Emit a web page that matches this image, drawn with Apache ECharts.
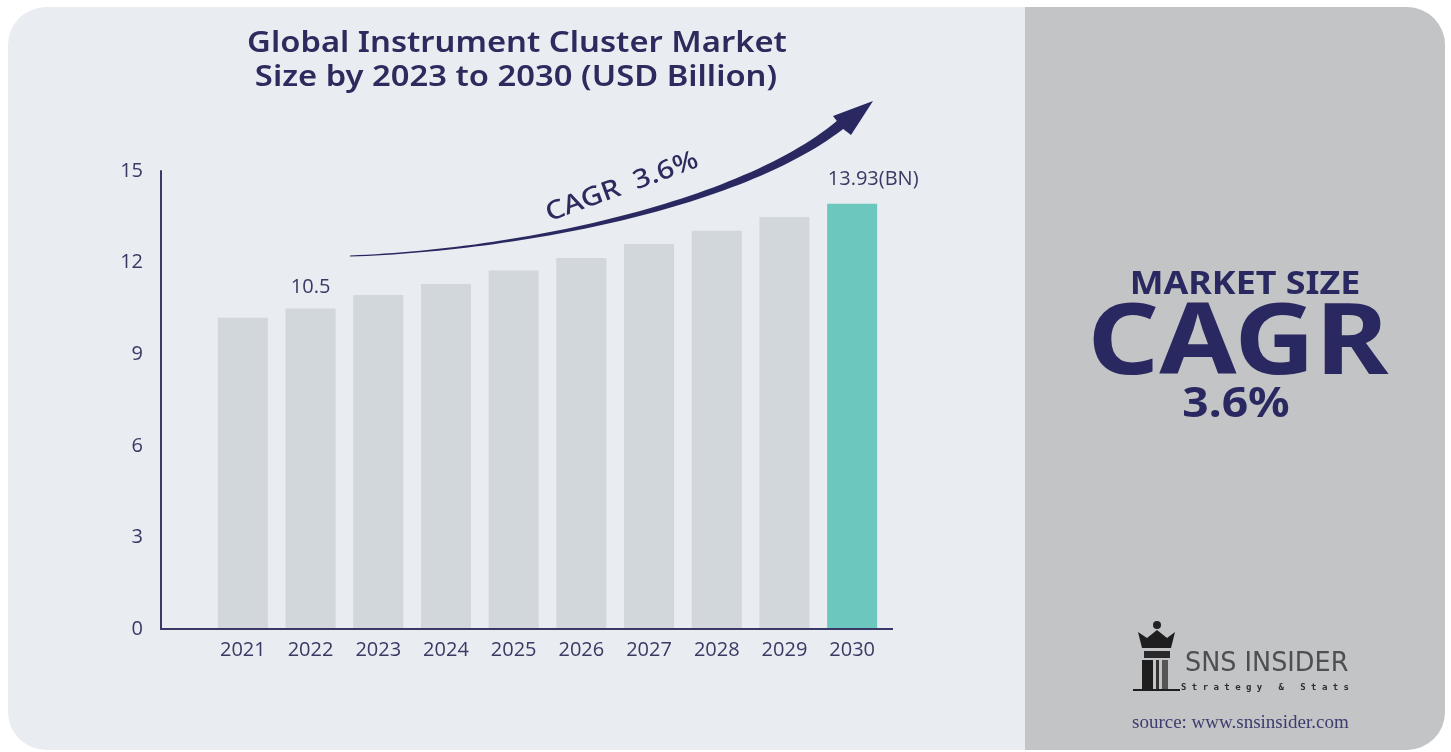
<!DOCTYPE html>
<html>
<head>
<meta charset="utf-8">
<script src="https://cdn.jsdelivr.net/npm/echarts@6/dist/echarts.min.js"></script>
<style>
  html, body { margin: 0; padding: 0; background: #ffffff; }
  #main { width: 1451px; height: 752px; }
</style>
</head>
<body>
<div id="main"></div>
<script>
// data
var years = ['2021', '2022', '2023', '2024', '2025', '2026', '2027', '2028', '2029', '2030'];
var marketSize = [10.19, 10.5, 10.94, 11.3, 11.74, 12.15, 12.61, 13.04, 13.49, 13.93];
var yTicks = [0, 3, 6, 9, 12, 15];
var labelled = {'2022': '10.5', '2030': '13.93(BN)'};

var navy = '#2d2b5e';
var barGrey = '#d2d7dc';
var teal = '#6cc7be';
var titleFont = '"Noto Sans", "Open Sans", sans-serif';
var axisFont = '"Open Sans", "Noto Sans", sans-serif';

var chart = echarts.init(document.getElementById('main'));

// swoosh arrow: cubic centre line, width growing toward the head
function bezPt(p, t){
	var u = 1 - t;
	return [
		u*u*u*p[0][0] + 3*u*u*t*p[1][0] + 3*u*t*t*p[2][0] + t*t*t*p[3][0],
		u*u*u*p[0][1] + 3*u*u*t*p[1][1] + 3*u*t*t*p[2][1] + t*t*t*p[3][1]
	];
}
var ctrl = [[350,256], [520,250], [740,205], [840,125]];
var up = [], down = [];
var n = 60;
for (var k = 0; k <= n; k++){
	var t = k / n;
	var a = bezPt(ctrl, Math.max(0, t - 0.005)), b = bezPt(ctrl, Math.min(1, t + 0.005));
	var dx = b[0] - a[0], dy = b[1] - a[1], len = Math.sqrt(dx*dx + dy*dy);
	var nx = dy / len, ny = -dx / len;
	var w = (1.2 + 9 * Math.pow(t, 1.5)) / 2;
	var c = bezPt(ctrl, t);
	up.push([c[0] + nx*w, c[1] + ny*w]);
	down.unshift([c[0] - nx*w, c[1] - ny*w]);
}
var arrowPts = up.concat([[833,116], [873,101], [851,135]]).concat(down);

var barData = [];
for (var i = 0; i < years.length; i++) {
	var isLast = (i == years.length - 1);
	var item = {
		value: marketSize[i],
		itemStyle: { color: isLast ? teal : barGrey }
	};
	if (labelled[years[i]]) {
		item.label = {
			show: true,
			position: 'top',
			formatter: labelled[years[i]],
			distance: isLast ? 14 : 11,
			offset: isLast ? [21, 0] : [0, 0],
			color: '#3a3963',
			fontSize: 20,
			fontFamily: axisFont
		};
	}
	barData.push(item);
}

var option = {
	backgroundColor: '#ffffff',
	animation: false,
	grid: { left: 209, right: 565, top: 171, bottom: 123 },
	xAxis: {
		type: 'category',
		data: years,
		axisLine: { show: false },
		axisTick: { show: false },
		axisLabel: { color: '#3a3963', fontSize: 20, fontFamily: axisFont, margin: 11 }
	},
	yAxis: {
		type: 'value',
		min: yTicks[0],
		max: yTicks[yTicks.length - 1],
		interval: 3,
		offset: 48,
		splitLine: { show: false },
		axisTick: { show: false },
		axisLine: { show: true, lineStyle: { color: '#3a3867', width: 2 } },
		axisLabel: { color: '#3a3963', fontSize: 20, fontFamily: axisFont, margin: 18 }
	},
	series: [{
		type: 'bar',
		barWidth: 50,
		data: barData
	}],
	graphic: [
		// card background
		{ type: 'rect', z: -10, shape: { x: 8, y: 7, width: 1437, height: 743, r: 38 }, style: { fill: '#e9ecf1' } },
		{ type: 'rect', z: -9, shape: { x: 1025, y: 7, width: 420, height: 743, r: [0, 38, 38, 0] }, style: { fill: '#c3c4c6' } },
		// x axis base line
		{ type: 'line', z: 5, shape: { x1: 160, y1: 629, x2: 893, y2: 629 }, style: { stroke: '#3a3867', lineWidth: 2 } },
		// title
		{ type: 'text', z: 5, x: 517, y: 44, scaleX: 1.13, style: { x: 0, y: 0, text: 'Global Instrument Cluster Market', fill: navy, font: '600 29px ' + titleFont, textAlign: 'center', textVerticalAlign: 'middle' } },
		{ type: 'text', z: 5, x: 516, y: 78, scaleX: 1.13, style: { x: 0, y: 0, text: 'Size by 2023 to 2030 (USD Billion)', fill: navy, font: '600 29px ' + titleFont, textAlign: 'center', textVerticalAlign: 'middle' } },
		// growth arrow
		{ type: 'polygon', z: 5, shape: { points: arrowPts }, style: { fill: '#2a2860' } },
		{ type: 'text', z: 5, x: 622, y: 187, rotation: 0.35, scaleX: 1.14, style: { x: 0, y: 0, text: 'CAGR  3.6%', fill: navy, font: '500 26px ' + titleFont, textAlign: 'center', textVerticalAlign: 'middle' } },
		// right panel
		{ type: 'text', z: 5, x: 1245, y: 285, scaleX: 1.12, style: { x: 0, y: 0, text: 'MARKET SIZE', fill: '#2a2860', font: 'bold 32px ' + titleFont, textAlign: 'center', textVerticalAlign: 'middle' } },
		{ type: 'text', z: 5, x: 1238, y: 346, scaleX: 1.14, style: { x: 0, y: 0, text: 'CAGR', fill: '#2a2860', font: 'bold 98px ' + titleFont, textAlign: 'center', textVerticalAlign: 'middle' } },
		{ type: 'text', z: 5, x: 1236, y: 405, scaleX: 1.1, style: { x: 0, y: 0, text: '3.6%', fill: '#2a2860', font: 'bold 42px ' + titleFont, textAlign: 'center', textVerticalAlign: 'middle' } },
		// logo
		{ type: 'circle', z: 5, shape: { cx: 1157, cy: 625, r: 4 }, style: { fill: '#222' } },
		{ type: 'polygon', z: 5, shape: { points: [[1138,632],[1147,638],[1157,630],[1167,638],[1175,632],[1171,648],[1142,648]] }, style: { fill: '#1e1e1e' } },
		{ type: 'rect', z: 5, shape: { x: 1144, y: 651, width: 26, height: 7 }, style: { fill: '#2a2a2a' } },
		{ type: 'rect', z: 5, shape: { x: 1142, y: 660, width: 11, height: 29 }, style: { fill: '#1e1e1e' } },
		{ type: 'rect', z: 5, shape: { x: 1156, y: 660, width: 3, height: 29 }, style: { fill: '#333' } },
		{ type: 'rect', z: 5, shape: { x: 1162, y: 660, width: 6, height: 29 }, style: { fill: '#555' } },
		{ type: 'rect', z: 5, shape: { x: 1133, y: 689, width: 47, height: 2 }, style: { fill: '#1e1e1e' } },
		{ type: 'text', z: 5, x: 1185, y: 664, scaleX: 1.05, style: { x: 0, y: 0, text: 'SNS INSIDER', fill: '#4f4f52', font: '27px "Liberation Sans Narrow", "DejaVu Sans Condensed", sans-serif', textAlign: 'left', textVerticalAlign: 'middle' } },
		{ type: 'text', z: 5, style: { x: 1181, y: 688, text: 'S t r a t e g y   &   S t a t s', fill: '#2e2e30', font: 'bold 9px "DejaVu Sans Mono", monospace', textAlign: 'left', textVerticalAlign: 'middle' } },
		{ type: 'text', z: 5, style: { x: 1132, y: 723, text: 'source: www.snsinsider.com', fill: '#3d3c6e', font: '19px "Liberation Serif", "DejaVu Serif", serif', textAlign: 'left', textVerticalAlign: 'middle' } }
	]
};

chart.setOption(option);
</script>
</body>
</html>
